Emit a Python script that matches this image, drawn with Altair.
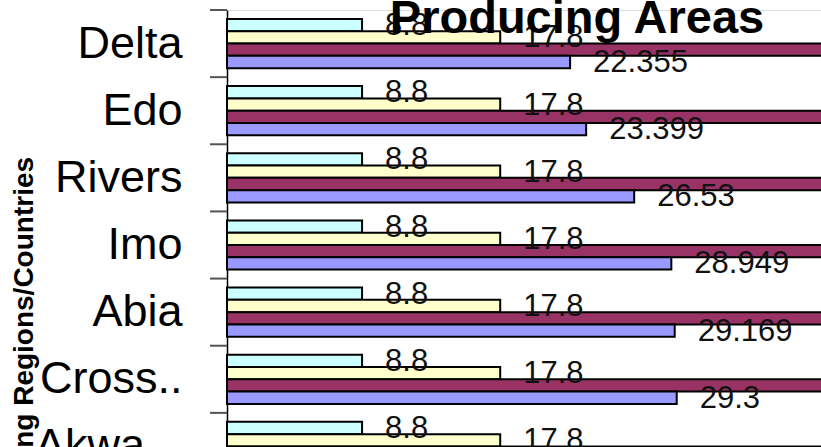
import altair as alt
import pandas as pd

regions = ["Delta", "Edo", "Rivers", "Imo", "Abia", "Cross River", "Akwa Ibom"]
series = ["Series 1", "Series 2", "Series 3", "Series 4"]
colors = ["#CCFFFF", "#FFFFCC", "#993366", "#9999FF"]
chart_title = ["Producing Areas"]

s1 = [8.8, 8.8, 8.8, 8.8, 8.8, 8.8, 8.8]
s2 = [17.8, 17.8, 17.8, 17.8, 17.8, 17.8, 17.8]
s3 = [45.0, 45.0, 45.0, 45.0, 45.0, 45.0, 45.0]
s4 = [22.355, 23.399, 26.53, 28.949, 29.169, 29.3, 31.0]

rows = []
for name, vals in zip(series, [s1, s2, s3, s4]):
    for r, v in zip(regions, vals):
        rows.append({"region": r, "series": name, "value": v, "label": f"{v:g}"})
df = pd.DataFrame(rows)
ticks_df = pd.DataFrame({"region": regions})
title_df = pd.DataFrame({"t": chart_title})

yscale = alt.Scale(domain=regions, range=[0, 470], paddingInner=0, paddingOuter=0)
yoff = alt.YOffset("series:N", sort=series,
                   scale=alt.Scale(domain=series, paddingInner=0, paddingOuter=0.73))
xenc = alt.X("value:Q", scale=alt.Scale(domain=[0, 38.7], nice=False, zero=True), axis=None)

yaxis = alt.Axis(
    title="Producing Regions/Countries",
    titleFont="Liberation Sans", titleFontSize=28, titleFontWeight="bold", titleColor="black",
    titleAngle=270, titleAlign="center", titleBaseline="alphabetic",
    titleX=-195, titleY=344,
    labelFont="Liberation Sans", labelFontSize=45, labelColor="black",
    labelPadding=45, ticks=False, tickSize=0, grid=False,
    domainColor="black", domainWidth=1.5,
    labelExpr="length(datum.label) > 6 ? slice(datum.label, 0, 5) + '..' : datum.label",
)

base = alt.Chart(df)

bars = base.mark_bar(stroke="black", strokeWidth=2).encode(
    y=alt.Y("region:N", sort=regions, scale=yscale, axis=yaxis),
    yOffset=yoff,
    x=xenc,
    color=alt.Color("series:N", scale=alt.Scale(domain=series, range=colors), legend=None),
)

labels = base.mark_text(
    align="left", baseline="middle", dx=23, dy=1,
    font="Liberation Sans", fontSize=31, color="#111111",
).encode(
    y=alt.Y("region:N", sort=regions, scale=yscale),
    yOffset=yoff,
    x=xenc,
    text="label:N",
)

ticks = alt.Chart(ticks_df).mark_rule(color="#555555", strokeWidth=2).encode(
    y=alt.Y("region:N", sort=regions, scale=yscale, bandPosition=0),
    x=alt.value(-17),
    x2=alt.value(0),
)

title = alt.Chart(title_df).mark_text(
    align="center", baseline="alphabetic", font="Liberation Sans",
    fontSize=47, fontWeight="bold", color="black",
).encode(
    text="t:N",
    x=alt.value(350),
    y=alt.value(23),
)

chart = alt.layer(bars, labels, ticks, title).properties(
    width=594,
    height=437,
    autosize=alt.AutoSizeParams(type="none"),
    padding={"left": 227, "top": 10, "right": 0, "bottom": 0},
).configure_view(stroke=None).configure(background="white")

chart.save("out.html", embed_options={"renderer": "svg", "actions": False})
